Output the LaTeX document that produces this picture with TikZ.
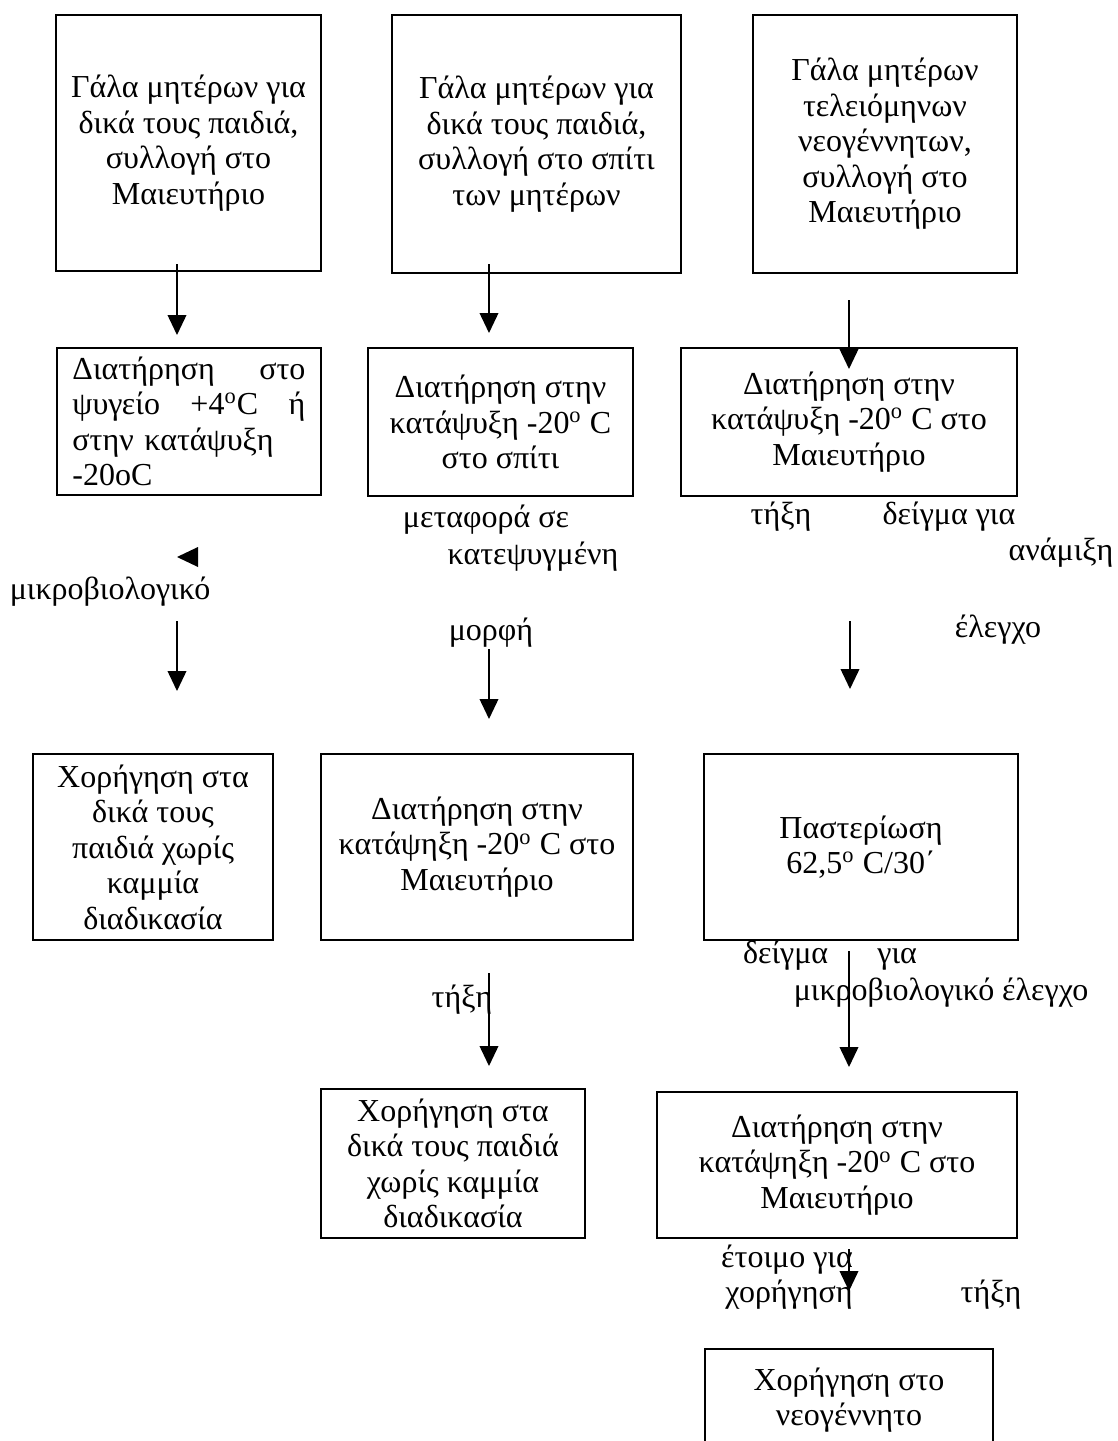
\documentclass[tikz,border=0pt]{standalone}
\usepackage{fontspec}
\setmainfont{Liberation Serif}
\usetikzlibrary{arrows.meta, calc}
\tikzset{
	box/.style={draw, line width=0.8pt, align=center, inner sep=0pt},
	lbl/.style={inner sep=0pt},
	arr/.style={line width=0.55pt, -{Triangle[length=8pt,width=7.5pt]}}
}

\begin{document}
\begin{tikzpicture}[x=0.4pt, y=-0.4pt, font=\fontsize{12.8pt}{14.2pt}\selectfont]
	\clip (0,0) rectangle (1118,1441);
	% top row
	\node [box, minimum width=106pt, minimum height=102.4pt] (a1) at (188.5,143) {Γάλα μητέρων για\\δικά τους παιδιά,\\συλλογή στο\\Μαιευτήριο};
	\node [box, minimum width=115.6pt, minimum height=103.2pt] (b1) at (536.5,144) {Γάλα μητέρων για\\δικά τους παιδιά,\\συλλογή στο σπίτι\\των μητέρων};
	\node [box, minimum width=105.6pt, minimum height=103.2pt] (c1) at (885,144) {Γάλα μητέρων\\τελειόμηνων\\νεογέννητων,\\συλλογή στο\\Μαιευτήριο};
	% storage
	\node [box, align=left, text width=93.2pt, minimum width=105.6pt, minimum height=58.8pt] (a2) at (189,421.5) {Διατήρηση\hfill στο\\ψυγείο\hfill +4\textsuperscript{o}C\hfill ή\\στην κατάψυξη\\-20oC};
	\node [box, minimum width=106pt, minimum height=59.2pt] (b2) at (500.5,422) {Διατήρηση στην\\κατάψυξη -20\textsuperscript{o} C\\στο σπίτι};
	\node [box, minimum width=134.4pt, minimum height=59.2pt] (c2) at (849,422) {Διατήρηση στην\\κατάψυξη -20\textsuperscript{o} C στο\\Μαιευτήριο};
	\node [box, minimum width=96pt, minimum height=74.4pt] (a3) at (153,847) {Χορήγηση στα\\δικά τους\\παιδιά χωρίς\\καμμία\\διαδικασία};
	\node [box, minimum width=124.8pt, minimum height=74.4pt] (b3) at (477,847) {Διατήρηση στην\\κατάψηξη -20\textsuperscript{o} C στο\\Μαιευτήριο};
	\node [box, minimum width=125.6pt, minimum height=74.4pt] (c3) at (861,847) {Παστερίωση\\62,5\textsuperscript{o} C/30΄};
	\node [box, minimum width=105.6pt, minimum height=59.6pt] (b4) at (453,1163.5) {Χορήγηση στα\\δικά τους παιδιά\\χωρίς καμμία\\διαδικασία};
	\node [box, minimum width=144pt, minimum height=58.4pt] (c4) at (837,1165) {Διατήρηση στην\\κατάψηξη -20\textsuperscript{o} C στο\\Μαιευτήριο};
	\node [box, minimum width=115.2pt, minimum height=40.8pt] (c5) at (849,1400) {Χορήγηση στο\\νεογέννητο};
	% loose labels
	\fill (198,547) -- (198,567) -- (177,557) -- cycle;
	\node [lbl] (lmicro) at (110,592) {μικροβιολογικό};
	\node [lbl] (ltransfer) at (486,520) {μεταφορά σε};
	\node [lbl] (lfrozen) at (533,557) {κατεψυγμένη};
	\node [lbl] (lform) at (491,633) {μορφή};
	\node [lbl] (lthaw) at (781,517) {τήξη};
	\node [lbl] (lsample) at (949,517) {δείγμα για};
	\node [lbl] (lmix) at (1061,553) {ανάμιξη};
	\node [lbl] (lcheck) at (998,630) {έλεγχο};
	\node [lbl] (lthawb) at (462,1000) {τήξη};
	\node [lbl, text width=69.6pt, align=left] (lsamplec) at (830,956) {δείγμα\hfill για};
	\node [lbl] (lmicroc) at (941,993) {μικροβιολογικό έλεγχο};
	\node [lbl] (lready) at (787,1260) {έτοιμο για};
	\node [lbl] (lgive) at (789,1295) {χορήγηση};
	\node [lbl] (lthawc) at (991,1295) {τήξη};
	% arrows
	\draw [arr] ($(a1.south)+(-11.5,-8)$) -- ($(a2.north)+(-12,-12)$);
	\draw [arr] ($(b1.south)+(-47.5,-10)$) -- ($(b2.north)+(-11.5,-14)$);
	\draw [arr] ($(c1.south)+(-36,26)$) -- ($(c2.north)+(0,22)$);
	\draw [arr] ($(a2.south)+(-12,125)$) -- ($(a3.north)+(24,-62)$);
	\draw [arr] ($(b2.south)+(-11.5,152)$) -- ($(b3.north)+(12,-34)$);
	\draw [arr] ($(c2.south)+(1,124)$) -- ($(c3.north)+(-11,-64)$);
	\draw [arr] ($(b3.south)+(12,32)$) -- ($(b4.north)+(36,-22)$);
	\draw [arr] ($(c3.south)+(-12,10)$) -- ($(c4.north)+(12,-24)$);
	\draw [arr] ($(c4.south)+(12,10)$) -- ($(c5.north)+(0,-57)$);
\end{tikzpicture}
\end{document}
